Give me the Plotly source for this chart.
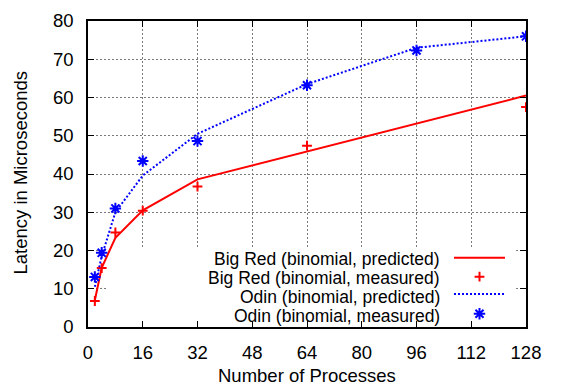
import plotly.graph_objects as go

# ---- data ----
procs = [2, 4, 8, 16, 32, 64, 96, 128]
bigred_pred = [7.0, 15.5, 23.3, 30.5, 38.6, 45.9, 53.2, 60.5]
bigred_meas_procs = [2, 4, 8, 16, 32, 64, 128]
bigred_meas = [6.8, 15.4, 24.7, 30.4, 36.7, 47.4, 57.5]
odin_pred = [10.5, 18.5, 30.0, 39.6, 50.5, 63.5, 73.0, 76.0]
odin_meas = [13.1, 19.4, 31.0, 43.4, 48.6, 63.2, 72.3, 76.0]
x_ticks = [0, 16, 32, 48, 64, 80, 96, 112, 128]
y_ticks = [0, 10, 20, 30, 40, 50, 60, 70, 80]
series_names = ["Big Red (binomial, predicted)", "Big Red (binomial, measured)",
                "Odin (binomial, predicted)", "Odin (binomial, measured)"]

RED = "#ff0000"
BLUE = "#0000ff"
FONT = "Liberation Sans, Arial, Helvetica, sans-serif"
FS = 18.5
FS_KEY = 17.5

W, H = 569, 392
L, R, T, B = 88, 43, 10, 65
PW, PH = W - L - R, H - T - B
XMAX, YMAX = 128, 80


def px2x(px):
    return (px - L) / PW * XMAX


def py2y(py):
    return (T + PH - py) / PH * YMAX


fig = go.Figure()

# data traces
fig.add_trace(go.Scatter(x=procs, y=bigred_pred, mode="lines",
                         line=dict(color=RED, width=2), showlegend=False))
fig.add_trace(go.Scatter(x=bigred_meas_procs, y=bigred_meas, mode="markers",
                         marker=dict(symbol="cross-thin-open", size=7, color=RED,
                                     line=dict(color=RED, width=2)),
                         showlegend=False))
fig.add_trace(go.Scatter(x=procs, y=odin_pred, mode="lines",
                         line=dict(color=BLUE, width=2, dash="2px,2px"),
                         showlegend=False))
fig.add_trace(go.Scatter(x=procs, y=odin_meas, mode="markers",
                         marker=dict(symbol="asterisk-open", size=9.5, color=BLUE,
                                     line=dict(color=BLUE, width=2)),
                         showlegend=False))

# ---- key (gnuplot style: right-aligned text, sample on the right) ----
row_y = [255.3, 274.9, 294.9, 314.3]
sx0, sx1, sxm = 454, 505, 479.5
text_right = 441
fig.add_trace(go.Scatter(x=[px2x(sx0), px2x(sx1)], y=[py2y(row_y[0])] * 2, mode="lines",
                         line=dict(color=RED, width=2),
                         showlegend=False, hoverinfo="skip", cliponaxis=False))
fig.add_trace(go.Scatter(x=[px2x(sxm)], y=[py2y(row_y[1])], mode="markers",
                         marker=dict(symbol="cross-thin-open", size=7, color=RED,
                                     line=dict(color=RED, width=2)),
                         showlegend=False, hoverinfo="skip", cliponaxis=False))
fig.add_trace(go.Scatter(x=[px2x(sx0), px2x(sx1)], y=[py2y(row_y[2] - 2)] * 2, mode="lines",
                         line=dict(color=BLUE, width=2, dash="2px,2px"),
                         showlegend=False, hoverinfo="skip", cliponaxis=False))
fig.add_trace(go.Scatter(x=[px2x(sxm)], y=[py2y(row_y[3] - 1)], mode="markers",
                         marker=dict(symbol="asterisk-open", size=9.5, color=BLUE,
                                     line=dict(color=BLUE, width=2)),
                         showlegend=False, hoverinfo="skip", cliponaxis=False))

annotations = []
for name, yy in zip(series_names, row_y):
    annotations.append(dict(text=name, x=(text_right - L) / PW, y=(T + PH - yy - 1) / PH,
                            xref="paper", yref="paper", borderpad=0,
                            xanchor="right", yanchor="middle", showarrow=False,
                            font=dict(family=FONT, size=FS_KEY, color="black")))

# axis titles
annotations.append(dict(text="Number of Processes", x=(307 - L) / PW,
                        y=(T + PH - 377) / PH, xref="paper", yref="paper",
                        xanchor="center", yanchor="middle", showarrow=False,
                        font=dict(family=FONT, size=FS, color="black")))
annotations.append(dict(text="Latency in Microseconds", x=(21 - L) / PW,
                        y=(T + PH - 167) / PH, xref="paper", yref="paper",
                        xanchor="center", yanchor="middle", showarrow=False,
                        textangle=-90,
                        font=dict(family=FONT, size=FS, color="black")))

# opaque key box (above grid, below data)
shapes = [dict(type="rect", xref="x", yref="y",
               x0=px2x(108), x1=px2x(515), y0=py2y(326), y1=py2y(245),
               fillcolor="white", line=dict(width=0), layer="between")]

axis_common = dict(showline=True, linecolor="black", linewidth=1.5, mirror="ticks",
                   ticks="inside", ticklen=6, tickwidth=1.2, tickcolor="black",
                   showgrid=True, gridcolor="#7a7a7a", gridwidth=1, griddash="2px,2px",
                   zeroline=False,
                   tickfont=dict(family=FONT, size=FS, color="black"))

fig.update_layout(
    width=W, height=H,
    margin=dict(l=L, r=R, t=T, b=B),
    paper_bgcolor="white", plot_bgcolor="white",
    xaxis=dict(range=[0, XMAX], tickvals=x_ticks, ticklabelstandoff=8, **axis_common),
    yaxis=dict(range=[0, YMAX], tickvals=y_ticks, ticklabelstandoff=9, **axis_common),
    annotations=annotations,
    shapes=shapes,
    showlegend=False,
)

fig.write_html("out.html")
